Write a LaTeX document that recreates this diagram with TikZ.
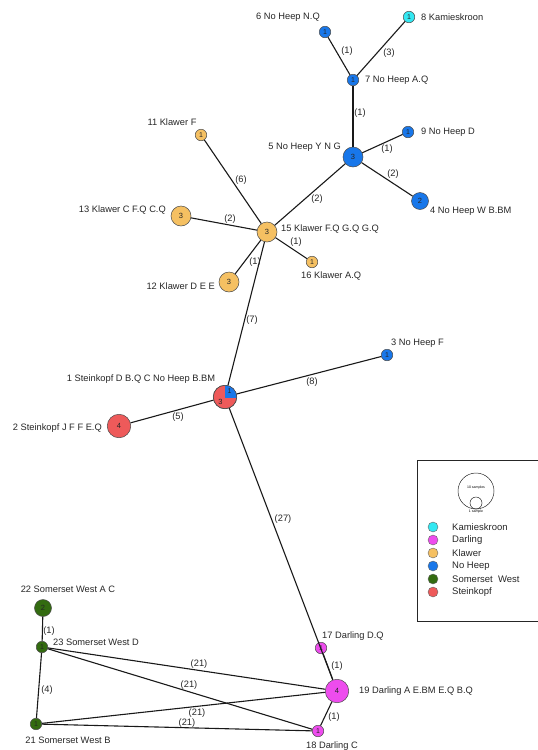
\documentclass[tikz,border=0pt]{standalone}
\usepackage{fontspec}
\setmainfont{Liberation Sans}
\definecolor{kam}{HTML}{33E8F2}
\definecolor{dar}{HTML}{EE4CEE}
\definecolor{kl}{HTML}{F5C062}
\definecolor{nh}{HTML}{1877EA}
\definecolor{sw}{HTML}{336B10}
\definecolor{st}{HTML}{EE5A5A}
\begin{document}
\begin{tikzpicture}[x=1pt,y=-1pt,
  hap/.style={circle,draw=black!70,line width=0.5pt,inner sep=0pt,font=\fontsize{7.5}{7.5}\selectfont,text=black!85},
  h1/.style={hap,minimum size=11.5pt,font=\fontsize{7}{7}\selectfont},
  h2/.style={hap,minimum size=17pt},
  h3/.style={hap,minimum size=20pt},
  h4/.style={hap,minimum size=23.5pt},
  lab/.style={font=\fontsize{9.3}{10}\selectfont,inner sep=0pt,text=black!85},
  elab/.style={font=\fontsize{9.3}{10}\selectfont,inner sep=0pt,text=black!85},
  link/.style={line width=1.1pt,draw=black!90},
  legdot/.style={circle,draw=black!60,line width=0.4pt,inner sep=0pt,minimum size=10pt},
  legtext/.style={font=\fontsize{9.5}{10}\selectfont,inner sep=0pt,anchor=west,text=black!85}]
\useasboundingbox (0,0) rectangle (538,750);
% nodes
\node[h1,fill=nh] (n6) at (325,32) {1};
\node[h1,fill=kam] (n8) at (409,17) {1};
\node[h1,fill=nh] (n7) at (353,80) {1};
\node[h3,fill=nh] (n5) at (353,157) {3};
\node[h1,fill=nh] (n9) at (408,132) {1};
\node[h2,fill=nh] (n4) at (420,201) {2};
\node[h3,fill=kl] (n15) at (267,232) {3};
\node[h1,fill=kl] (n11) at (201,135) {1};
\node[h3,fill=kl] (n13) at (181,216) {3};
\node[h3,fill=kl] (n12) at (229,282) {3};
\node[h1,fill=kl] (n16) at (312,262) {1};
\node[h4,fill=st] (n1) at (225,397) {};
\node[h4,fill=st] (n2) at (119,426) {4};
\node[h1,fill=nh] (n3) at (387,355) {1};
\node[h1,fill=dar] (n17) at (321,648) {1};
\node[h4,fill=dar] (n19) at (337,691) {4};
\node[h1,fill=dar] (n18) at (318,731) {1};
\node[h2,fill=sw] (n22) at (43,608) {2};
\node[h1,fill=sw] (n23) at (42,647) {1};
\node[h1,fill=sw] (n21) at (36,724) {1};
% pie of node 1
\begin{scope}
  \clip (n1.center) rectangle ([shift={(15,-15)}]n1.center);
  \fill[nh] (n1.center) circle (11.75pt);
\end{scope}
\draw[black!70,line width=0.5pt] (n1.center) circle (11.75pt);
\node[font=\fontsize{7}{7}\selectfont,inner sep=0pt,text=black!85] (n1a) at (229.5,391.5) {1};
\node[font=\fontsize{7.5}{7.5}\selectfont,inner sep=0pt,text=black!85] (n1b) at (220.5,401.5) {3};
% edges
\draw[link] (n6) -- (n7);
\draw[link] (n8) -- (n7);
\draw[link] (n7) -- (n5);
\draw[link] (n5) -- (n9);
\draw[link] (n5) -- (n4);
\draw[link] (n5) -- (n15);
\draw[link] (n11) -- (n15);
\draw[link] (n13) -- (n15);
\draw[link] (n15) -- (n16);
\draw[link] (n15) -- (n12);
\draw[link] (n15) -- (n1);
\draw[link] (n1) -- (n3);
\draw[link] (n1) -- (n2);
\draw[link] (n1) -- (n19);
\draw[link] (n17) -- (n19);
\draw[link] (n19) -- (n18);
\draw[link] (n22) -- (n23);
\draw[link] (n23) -- (n21);
\draw[link] (n23) -- (n19);
\draw[link] (n23) -- (n18);
\draw[link] (n21) -- (n19);
\draw[link] (n21) -- (n18);
% edge labels
\node[elab] (e67) at (347,51) {(1)};
\node[elab] (e87) at (389,53) {(3)};
\node[elab] (e75) at (360,113) {(1)};
\node[elab] (e59) at (387,149) {(1)};
\node[elab] (e54) at (393,174) {(2)};
\node[elab] (e515) at (317,199) {(2)};
\node[elab] (e1115) at (241,180) {(6)};
\node[elab] (e1315) at (230,219) {(2)};
\node[elab] (e1516) at (296,242) {(1)};
\node[elab] (e1512) at (255,262) {(1)};
\node[elab] (e151) at (252,320) {(7)};
\node[elab] (e13) at (312,382) {(8)};
\node[elab] (e12) at (178,417) {(5)};
\node[elab] (e119) at (283,519) {(27)};
\node[elab] (e1719) at (337,666) {(1)};
\node[elab] (e1918) at (334,717) {(1)};
\node[elab] (e2223) at (49,631) {(1)};
\node[elab] (e2321) at (47,690) {(4)};
\node[elab] (e2319) at (199,664) {(21)};
\node[elab] (e2318) at (189,685) {(21)};
\node[elab] (e2119) at (197,713) {(21)};
\node[elab] (e2118) at (187,723) {(21)};
% node labels
\node[lab] (l6) at (288,17) {6 No Heep N.Q};
\node[lab,anchor=west] (l8) at (421,17) {8 Kamieskroon};
\node[lab,anchor=west] (l7) at (365,80) {7 No Heep A.Q};
\node[lab,anchor=east] (l5) at (341,147) {5 No Heep Y N G};
\node[lab,anchor=west] (l9) at (421,132) {9 No Heep D};
\node[lab,anchor=west] (l4) at (430,211) {4 No Heep W B.BM};
\node[lab] (l11) at (172,122) {11 Klawer F};
\node[lab,anchor=east] (l13) at (166,210) {13 Klawer C F.Q C.Q};
\node[lab,anchor=west] (l15) at (281,229) {15 Klawer F.Q G.Q G.Q};
\node[lab,anchor=west] (l16) at (301,276) {16 Klawer A.Q};
\node[lab,anchor=east] (l12) at (215,286) {12 Klawer D E E};
\node[lab] (l1) at (141,379) {1 Steinkopf D B.Q C No Heep B.BM};
\node[lab,anchor=east] (l2) at (102,428) {2 Steinkopf J F F E.Q};
\node[lab,anchor=west] (l3) at (391,343) {3 No Heep F};
\node[lab,anchor=west] (l17) at (322,636) {17 Darling D.Q};
\node[lab,anchor=west] (l19) at (359,691) {19 Darling A E.BM E.Q B.Q};
\node[lab] (l18) at (332,746) {18 Darling C};
\node[lab] (l22) at (68,589) {22 Somerset West A C};
\node[lab,anchor=west] (l23) at (53,642) {23 Somerset West D};
\node[lab] (l21) at (68,740) {21 Somerset West B};
% legend
\draw[line width=0.8pt,black!85] (538,460) -- (417,460) -- (417,621) -- (538,621);
\node[circle,draw=black!85,line width=0.5pt,inner sep=0pt,minimum size=36pt] (lgbig) at (476,491) {};
\node[circle,draw=black!85,line width=0.5pt,inner sep=0pt,minimum size=12pt,anchor=south] (lgsmall) at (lgbig.south) {};
\node[font=\fontsize{3.5}{4}\selectfont,inner sep=0pt] (lgt10) at (476,488) {10 samples};
\node[font=\fontsize{3.5}{4}\selectfont,inner sep=0pt] (lgt1) at (476,512) {1 sample};
\node[legdot,fill=kam] (d1) at (433,527) {};
\node[legdot,fill=dar] (d2) at (433,540) {};
\node[legdot,fill=kl] (d3) at (433,553) {};
\node[legdot,fill=nh] (d4) at (433,566) {};
\node[legdot,fill=sw] (d5) at (433,579) {};
\node[legdot,fill=st] (d6) at (433,592) {};
\node[legtext] (t1) at (452,527) {Kamieskroon};
\node[legtext] (t2) at (452,540) {Darling};
\node[legtext] (t3) at (452,553) {Klawer};
\node[legtext] (t4) at (452,566) {No Heep};
\node[legtext] (t5) at (452,579) {Somerset\ \ West};
\node[legtext] (t6) at (452,592) {Steinkopf};
\end{tikzpicture}
\end{document}
